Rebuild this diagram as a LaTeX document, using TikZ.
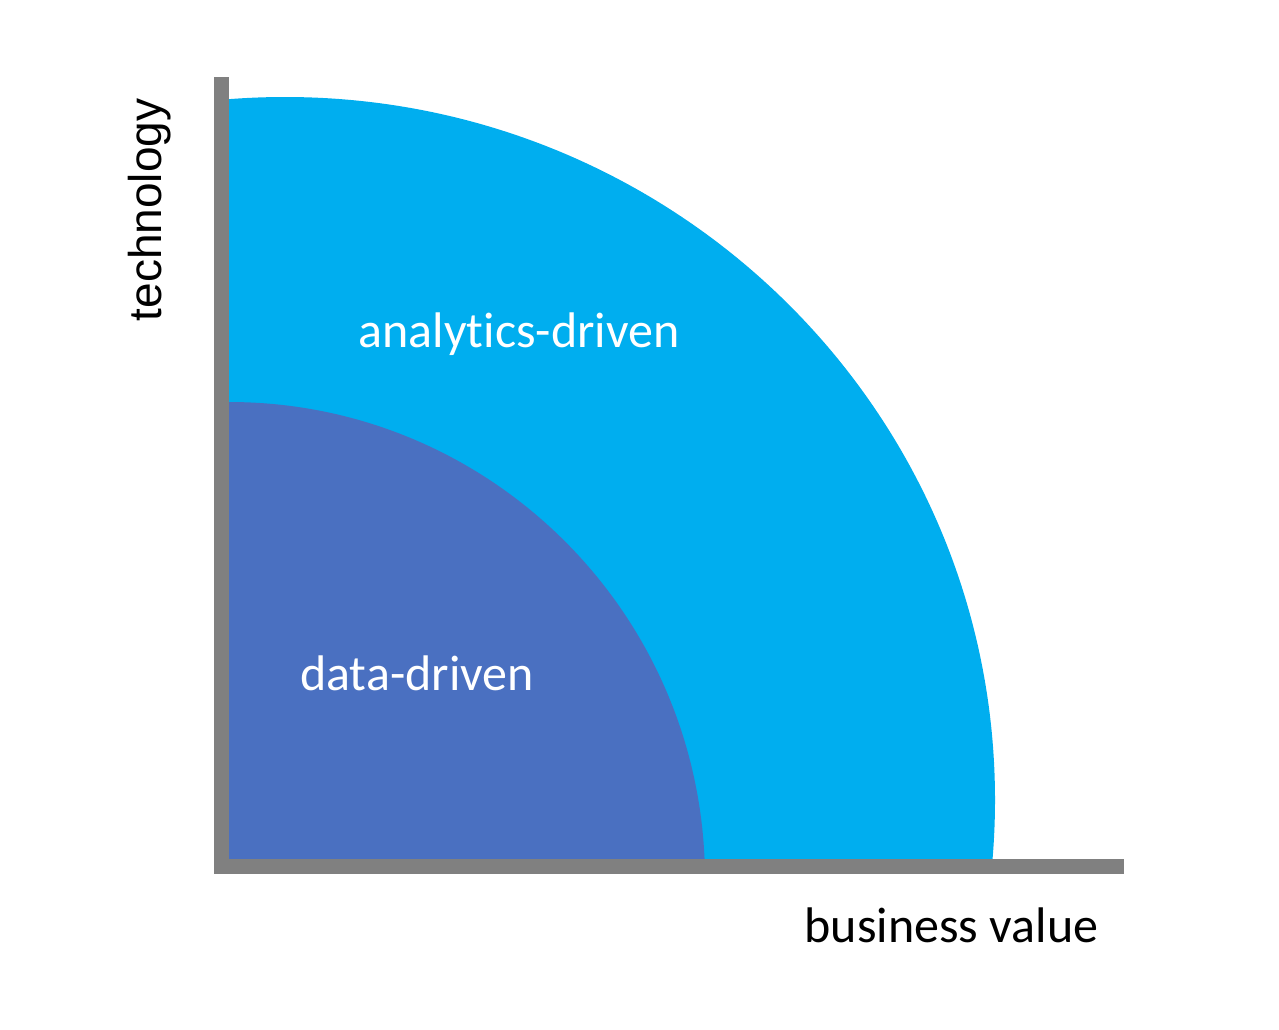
\documentclass[tikz,border=0pt]{standalone}
\usepackage{fontspec}
\setmainfont{Carlito}[Ligatures={NoCommon}]
\newfontfamily\arialf{Liberation Sans}
\definecolor{outerblue}{RGB}{0,174,239}
\definecolor{innerblue}{RGB}{74,112,193}
\definecolor{axisgray}{RGB}{128,128,128}
\begin{document}
\begin{tikzpicture}[x=1pt,y=-1pt,
  lbl/.style={font=\fontsize{50}{54}\selectfont, inner sep=0pt, anchor=base},
  axislbl/.style={font=\fontsize{50}{54}\selectfont, inner sep=0pt, anchor=base, text=black}]
\useasboundingbox (0,0) rectangle (1279,1029);
\fill[white] (0,0) rectangle (1279,1029);
% outer quarter ellipse
\begin{scope}
\clip (229,0) rectangle (1279,859);
\fill[outerblue] (285,800) ellipse [x radius=710, y radius=703];
\fill[outerblue] (229,800) rectangle (285,859);
\end{scope}
% inner quarter ellipse
\begin{scope}
\clip (229,0) rectangle (1279,859);
\fill[innerblue] (229,880) ellipse [x radius=476, y radius=478];
\end{scope}
% axes
\fill[axisgray] (214,77) rectangle (229,874);
\fill[axisgray] (214,859) rectangle (1124,874);
% labels
\node[lbl, text=white] (ad) at (519,347) {analytics-driven};
\node[lbl, text=white] (dd) at (417,690) {data-driven};
\node[axislbl] (bv) at (951.5,942) {business value};
\node[axislbl, font=\arialf\fontsize{46}{50}\selectfont, rotate=90] (tech) at (161,210) {technology};
\end{tikzpicture}
\end{document}
